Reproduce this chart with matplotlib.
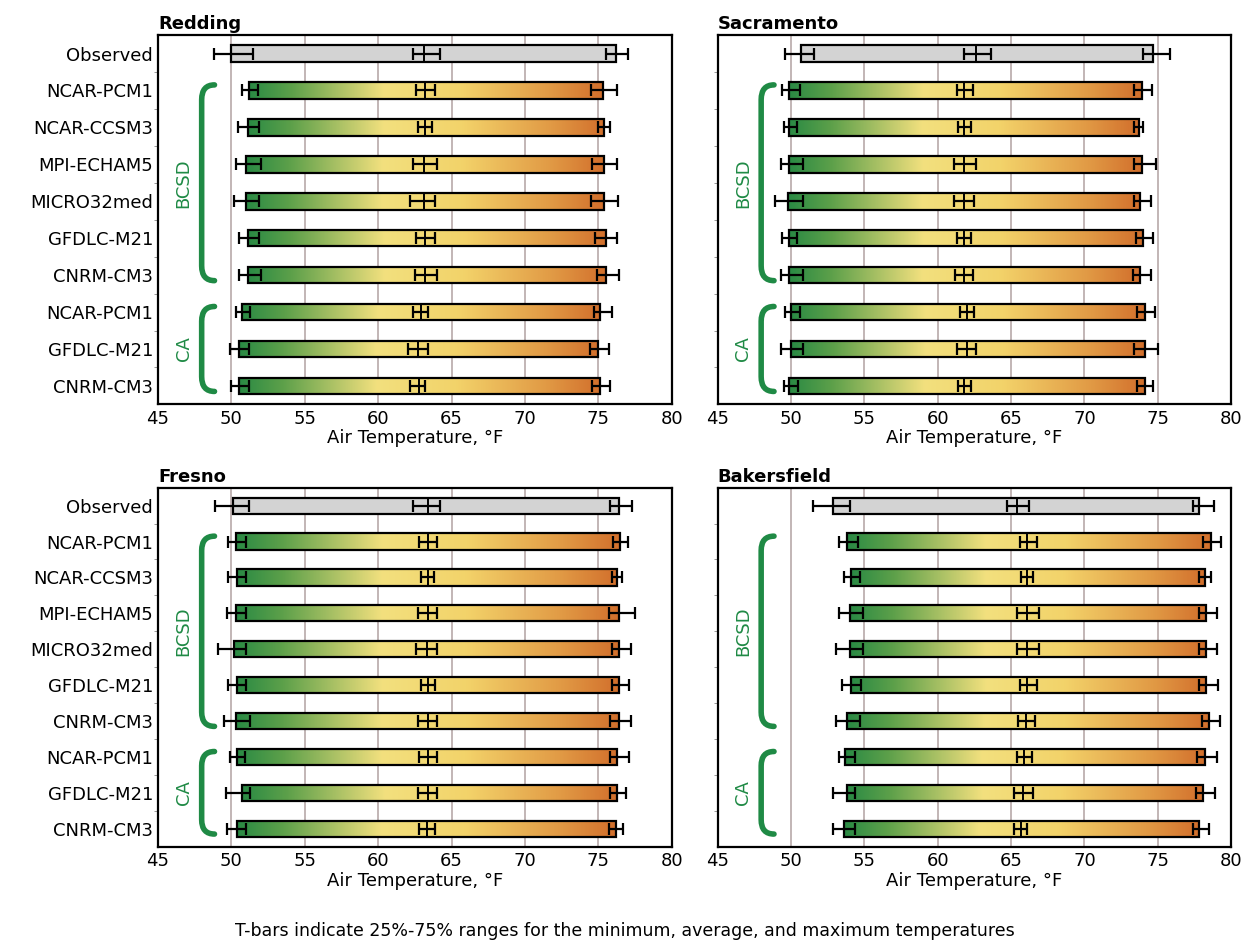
import numpy as np
import matplotlib.pyplot as plt
from matplotlib.colors import LinearSegmentedColormap
from matplotlib.path import Path
from matplotlib.patches import PathPatch, Rectangle
import matplotlib.transforms as mtransforms

models = ["Observed", "NCAR-PCM1", "NCAR-CCSM3", "MPI-ECHAM5", "MICRO32med",
          "GFDLC-M21", "CNRM-CM3", "NCAR-PCM1", "GFDLC-M21", "CNRM-CM3"]

# per station: min, avg, max and 25%-75% ranges (lo, hi) of each
redding_min = [50.0, 51.2, 51.1, 51.0, 51.0, 51.1, 51.1, 50.7, 50.5, 50.5]
redding_avg = [63.1, 63.2, 63.2, 63.1, 63.1, 63.2, 63.2, 62.9, 62.7, 62.8]
redding_max = [76.2, 75.3, 75.4, 75.4, 75.4, 75.5, 75.5, 75.1, 75.0, 75.1]
redding_min_rng = [(48.8, 51.5), (50.7, 51.8), (50.45, 51.9), (50.3, 52.05), (50.2, 51.9),
                   (50.5, 51.9), (50.5, 52.0), (50.3, 51.3), (49.9, 51.2), (50.0, 51.2)]
redding_avg_rng = [(62.4, 64.2), (62.6, 63.9), (62.7, 63.7), (62.4, 64.0), (62.2, 63.9),
                   (62.6, 63.9), (62.5, 64.0), (62.4, 63.4), (62.0, 63.4), (62.2, 63.2)]
redding_max_rng = [(75.5, 77.0), (74.5, 76.3), (74.95, 75.8), (74.6, 76.3), (74.5, 76.35),
                   (74.8, 76.3), (74.9, 76.4), (74.7, 75.9), (74.4, 75.7), (74.6, 75.8)]

sac_min = [50.7, 49.9, 49.9, 49.9, 49.8, 49.9, 49.9, 50.0, 50.0, 49.9]
sac_avg = [62.6, 61.8, 61.8, 61.8, 61.8, 61.8, 61.8, 62.0, 62.0, 61.8]
sac_max = [74.7, 73.9, 73.7, 73.9, 73.8, 74.0, 73.8, 74.1, 74.1, 74.1]
sac_min_rng = [(49.6, 51.6), (49.4, 50.6), (49.5, 50.4), (49.3, 50.8), (48.9, 50.8),
               (49.4, 50.4), (49.3, 50.8), (49.6, 50.6), (49.3, 50.8), (49.5, 50.5)]
sac_avg_rng = [(61.8, 63.6), (61.3, 62.4), (61.4, 62.3), (61.1, 62.6), (61.1, 62.5),
               (61.3, 62.3), (61.2, 62.4), (61.5, 62.5), (61.3, 62.6), (61.4, 62.3)]
sac_max_rng = [(74.0, 75.8), (73.4, 74.6), (73.4, 74.0), (73.4, 74.9), (73.4, 74.5),
               (73.5, 74.7), (73.3, 74.5), (73.6, 74.8), (73.4, 75.0), (73.6, 74.7)]

fresno_min = [50.1, 50.3, 50.4, 50.3, 50.2, 50.4, 50.3, 50.4, 50.7, 50.4]
fresno_avg = [63.4, 63.4, 63.4, 63.4, 63.3, 63.4, 63.4, 63.4, 63.4, 63.3]
fresno_max = [76.4, 76.5, 76.3, 76.4, 76.4, 76.4, 76.4, 76.3, 76.3, 76.2]
fresno_min_rng = [(48.9, 51.2), (49.8, 51.0), (49.8, 51.0), (49.7, 51.0), (49.1, 51.0),
                  (49.8, 51.0), (49.5, 51.3), (49.9, 50.9), (49.6, 51.3), (49.7, 51.0)]
fresno_avg_rng = [(62.4, 64.2), (62.8, 64.0), (62.9, 63.8), (62.7, 64.0), (62.6, 64.0),
                  (62.9, 63.9), (62.7, 64.0), (62.8, 64.0), (62.7, 64.0), (62.8, 63.9)]
fresno_max_rng = [(75.8, 77.3), (76.0, 77.0), (75.9, 76.6), (75.7, 77.5), (75.9, 77.2),
                  (75.9, 77.1), (75.8, 77.2), (75.8, 77.1), (75.8, 76.9), (75.7, 76.7)]

bak_min = [52.9, 53.8, 54.1, 54.0, 54.0, 54.1, 53.8, 53.7, 53.8, 53.6]
bak_avg = [65.4, 66.1, 66.1, 66.1, 66.1, 66.1, 66.0, 65.9, 65.8, 65.7]
bak_max = [77.8, 78.6, 78.2, 78.3, 78.3, 78.3, 78.5, 78.2, 78.1, 77.8]
bak_min_rng = [(51.5, 54.0), (53.3, 54.6), (53.6, 54.7), (53.3, 54.9), (53.1, 54.9),
               (53.5, 54.8), (53.1, 54.7), (53.3, 54.4), (52.9, 54.4), (52.9, 54.4)]
bak_avg_rng = [(64.7, 66.2), (65.6, 66.8), (65.7, 66.5), (65.4, 66.9), (65.4, 66.9),
               (65.6, 66.8), (65.5, 66.6), (65.4, 66.4), (65.2, 66.5), (65.2, 66.1)]
bak_max_rng = [(77.4, 78.8), (78.1, 79.3), (77.8, 78.6), (77.8, 79.0), (77.8, 79.0),
               (77.8, 79.1), (78.0, 79.2), (77.7, 79.0), (77.6, 78.9), (77.4, 78.5)]

stations = [
    ("Redding", redding_min, redding_avg, redding_max, redding_min_rng, redding_avg_rng, redding_max_rng),
    ("Sacramento", sac_min, sac_avg, sac_max, sac_min_rng, sac_avg_rng, sac_max_rng),
    ("Fresno", fresno_min, fresno_avg, fresno_max, fresno_min_rng, fresno_avg_rng, fresno_max_rng),
    ("Bakersfield", bak_min, bak_avg, bak_max, bak_min_rng, bak_avg_rng, bak_max_rng),
]

cmap = LinearSegmentedColormap.from_list(
    "temp", [(0, "#2a8a44"), (0.12, "#5da04a"), (0.38, "#f2e07e"), (0.6, "#f3d36a"),
             (0.85, "#e19a45"), (1, "#d26f2c")])
green = "#1f8a45"
positions = [
    [0.1264, 0.573, 0.411, 0.390],
    [0.574, 0.573, 0.411, 0.390],
    [0.1264, 0.106, 0.411, 0.379],
    [0.574, 0.106, 0.411, 0.379],
]


def draw_brace(ax, y_top, y_bot, label):
    trans = mtransforms.blended_transform_factory(ax.transAxes, ax.transData)
    x0, x1 = 0.085, 0.11
    verts = [(x1, y_top), (x0, y_top), (x0, y_top + 0.4), (x0, y_bot - 0.4),
             (x0, y_bot), (x1, y_bot)]
    codes = [Path.MOVETO, Path.CURVE3, Path.CURVE3, Path.LINETO, Path.CURVE3, Path.CURVE3]
    ax.add_patch(PathPatch(Path(verts, codes), fill=False, edgecolor=green, lw=4,
                           capstyle="round", transform=trans, clip_on=False))
    ax.text(0.05, (y_top + y_bot) / 2, label, rotation=90, color=green, fontsize=13,
            ha="center", va="center", transform=trans)


fig = plt.figure(figsize=(12.5, 9.47), dpi=100)
ys = np.arange(len(models))
h = 0.45
grad = np.linspace(0, 1, 256).reshape(1, -1)

for k, (name, mn, av, mx, mnr, avr, mxr) in enumerate(stations):
    ax = fig.add_axes(positions[k])
    for g in [50, 55, 60, 65, 70, 75]:
        ax.axvline(g, color="#b8a9a9", lw=1.2, zorder=0)
    for i in ys:
        if i == 0:
            ax.add_patch(Rectangle((mn[i], i - h / 2), mx[i] - mn[i], h, facecolor="#d3d3d3",
                                   edgecolor="black", lw=1.6, zorder=2))
        else:
            ax.imshow(grad, cmap=cmap, aspect="auto", zorder=2,
                      extent=(mn[i], mx[i], i + h / 2, i - h / 2))
            ax.add_patch(Rectangle((mn[i], i - h / 2), mx[i] - mn[i], h, fill=False,
                                   edgecolor="black", lw=1.6, zorder=3))
        ax.plot([av[i], av[i]], [i - h / 2, i + h / 2], color="black", lw=1.4, zorder=4)
        for val, (lo, hi) in [(mn[i], mnr[i]), (av[i], avr[i]), (mx[i], mxr[i])]:
            ax.errorbar(val, i, xerr=[[val - lo], [hi - val]], fmt="none", ecolor="black",
                        elinewidth=1.6, capsize=4, capthick=1.6, zorder=5)
    ax.set_xlim(45, 80)
    ax.set_ylim(len(models) - 0.5, -0.5)
    ax.set_xticks(range(45, 81, 5))
    ax.set_yticks(ys)
    ax.set_yticks(ys[:-1] + 0.5, minor=True)
    ax.tick_params(axis="y", which="major", length=0)
    ax.tick_params(axis="y", which="minor", length=3, color="#888888")
    ax.tick_params(axis="x", labelsize=13, length=0, pad=4)
    if k % 2 == 0:
        ax.set_yticklabels(models, fontsize=13)
    else:
        ax.set_yticklabels([])
    for s in ax.spines.values():
        s.set_linewidth(1.6)
    ax.set_xlabel("Air Temperature, °F", fontsize=13, labelpad=1)
    ax.set_title(name, loc="left", fontsize=13, fontweight="bold", pad=4)
    draw_brace(ax, 0.85, 6.15, "BCSD")
    draw_brace(ax, 6.85, 9.15, "CA")

fig.text(0.5, 0.012, "T-bars indicate 25%-75% ranges for the minimum, average, and maximum temperatures",
         ha="center", fontsize=12.5)
fig.savefig("out.png", dpi=100)
